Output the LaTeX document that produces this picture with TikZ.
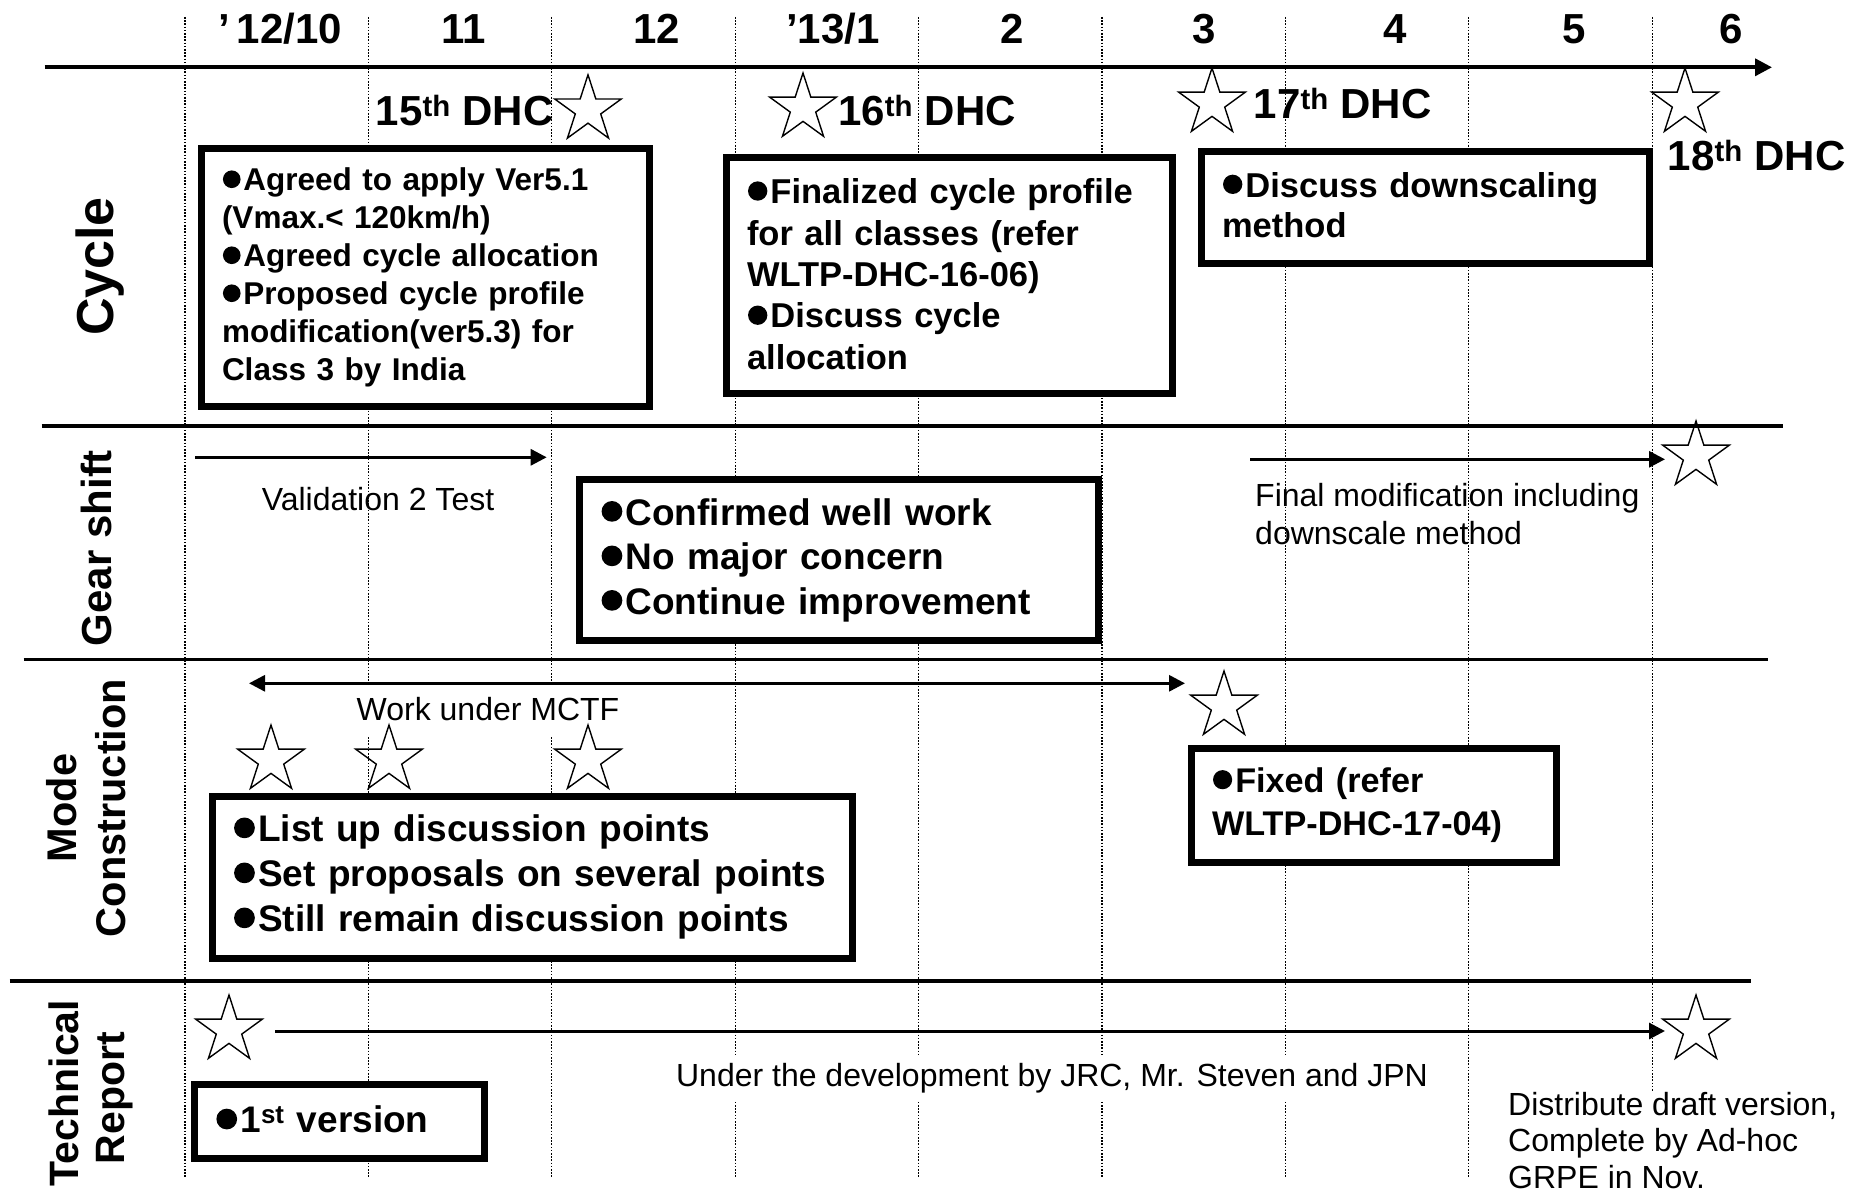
\documentclass[tikz,border=0pt]{standalone}
\usepackage{fontspec}
\setmainfont{Liberation Sans}
\usetikzlibrary{shapes.geometric,arrows.meta}
\newcommand\bul{\tikz[baseline=0pt,x=1em,y=1em]{\fill (0.31,0.37) circle (0.28); \path (0,0) (0.68,0);}}
\begin{document}
\begin{tikzpicture}[x=1pt,y=-1pt,
  gridline/.style={line width=1.3pt, dash pattern=on 1.6pt off 1.6pt},
  sepline/.style={line width=3.6pt},
  arr/.style={line width=3pt, -{Triangle[length=16pt,width=16pt]}},
  darr/.style={line width=3pt, {Triangle[length=16pt,width=16pt]}-{Triangle[length=16pt,width=16pt]}},
  box/.style={draw, line width=7pt, fill=white, align=left, inner xsep=21pt, inner ysep=0pt, outer sep=0pt, anchor=north west},
  mstar/.style={star, star points=5, star point ratio=2.618, minimum size=70pt, inner sep=0pt, outer sep=0pt, draw, line width=1.4pt},
  note/.style={font=\fontsize{32}{38}\selectfont, inner sep=0pt},
  mon/.style={font=\bfseries\fontsize{42}{50}\selectfont, anchor=base, inner sep=0pt},
  sect/.style={rotate=90, inner sep=0pt, font=\bfseries\fontsize{41}{48}\selectfont}
]
\useasboundingbox[fill=white] (0,0) rectangle (1858,1196);

% month grid
\foreach \x in {185,368.4,551.8,735.2,918.6,1102,1285.4,1468.8,1652.2}
  \draw[gridline] (\x,17) -- (\x,1177);

% timeline
\coordinate (t0) at (44.5,67.3);
\coordinate (t1) at (1772,67.3);
\draw[line width=3.6pt,-{Triangle[length=17pt,width=17pt]}] (t0) -- (t1);

% separators
\draw[sepline] (41.5,426) -- (1783,426);
\draw[sepline] (23.7,659.3) -- (1768,659.3);
\draw[sepline] (9.5,981) -- (1751,981);

% months
\node[mon] (m10) at (280,44) {’\kern7pt12/10};
\node[mon] (m11) at (464,44) {11};
\node[mon] (m12) at (656.5,44) {12};
\node[mon] (m1) at (833,44) {’13/1};
\node[mon] (m2) at (1012,44) {2};
\node[mon] (m3) at (1204.5,44) {3};
\node[mon] (m4) at (1394.7,44) {4};
\node[mon] (m5) at (1574,44) {5};
\node[mon] (m6) at (1730.7,44) {6};

% section labels
\node[sect, font=\bfseries\fontsize{52}{60}\selectfont] (cyc) at (100.5,266.5) {Cycle};
\node[sect, font=\bfseries\fontsize{42}{50}\selectfont] (gear) at (96.7,548) {Gear shift};
\node[sect, font=\bfseries\fontsize{41.5}{48}\selectfont] (mode) at (62,808) {Mode};
\node[sect, font=\bfseries\fontsize{41.5}{48}\selectfont] (cons) at (111,808) {Construction};
\node[sect] (tech) at (64,1093) {Technical};
\node[sect] (rep) at (115,1098) {Report};

% DHC labels and stars
\node[mon] (d15) at (464.7,125.6) {15\textsuperscript{th} DHC};
\node[mon] (d16) at (927,125.6) {16\textsuperscript{th} DHC};
\node[mon] (d17) at (1342.7,118.5) {17\textsuperscript{th} DHC};
\node[mon] (d18) at (1756.7,171) {18\textsuperscript{th} DHC};
\node[mstar] (s15) at (588,109.8) {};
\node[mstar] (s16) at (803,108) {};
\node[mstar] (s17) at (1212,103) {};
\node[mstar] (s18) at (1685,103) {};

% cycle boxes
\node[box, text width=406pt, minimum height=257.5pt, font=\bfseries\fontsize{31.5}{38}\selectfont] (b1) at (201,149)
 {\bul Agreed to apply Ver5.1\\(Vmax.< 120km/h)\\\bul Agreed cycle allocation\\\bul Proposed cycle profile\\modification(ver5.3) for\\Class 3 by India};
\node[box, text width=404.5pt, minimum height=235.5pt, font=\bfseries\fontsize{34.5}{41.4}\selectfont] (b2) at (726,158)
 {\bul Finalized cycle profile\\for all classes (refer\\WLTP-DHC-16-06)\\\bul Discuss cycle\\allocation\vspace{3pt}};
\node[box, text width=406pt, minimum height=111pt, font=\bfseries\fontsize{34.5}{40.5}\selectfont] (b3) at (1201,152)
 {\bul Discuss downscaling\\method\vspace{5pt}};

% gear shift
\coordinate (va) at (195,457.3);
\coordinate (vb) at (546.7,457.3);
\draw[arr] (va) -- (vb);
\node[note, anchor=base] (val) at (378,510) {Validation 2 Test};
\node[box, text width=477pt, minimum height=161pt, font=\bfseries\fontsize{37}{44.5}\selectfont] (gb) at (579.5,479.5)
 {\bul Confirmed well work\\\bul No major concern\\\bul Continue improvement};
\node[mstar] (sg) at (1696,456) {};
\coordinate (fa) at (1250,459.3);
\coordinate (fb) at (1665,459.3);
\draw[arr] (fa) -- (fb);
\node[note, anchor=north west, align=left] (fin) at (1255,482.7) {Final modification including\\downscale method};

% mode construction
\node[note, anchor=base, fill=white, inner xsep=2pt, inner ysep=14pt] (mctf) at (488,720.5) {Work under MCTF};
\coordinate (ma) at (249,683.3);
\coordinate (mb) at (1185,683.3);
\draw[darr] (ma) -- (mb);
\node[mstar] (sm1) at (271,760) {};
\node[mstar] (sm2) at (389,760) {};
\node[mstar] (sm3) at (588,760) {};
\node[mstar] (sm4) at (1224,706) {};
\node[box, text width=598pt, minimum height=162pt, font=\bfseries\fontsize{37}{45}\selectfont] (mb1) at (212,796)
 {\bul List up discussion points\\\bul Set proposals on several points\\\bul Still remain discussion points};
\node[box, text width=323pt, minimum height=114pt, font=\bfseries\fontsize{34.2}{43}\selectfont] (fb) at (1191,748)
 {\bul Fixed (refer\\WLTP-DHC-17-04)};

% technical report
\node[mstar] (st1) at (229,1030) {};
\node[mstar] (st2) at (1696,1030) {};
\coordinate (ta) at (275,1031);
\coordinate (tb) at (1665,1031);
\draw[arr] (ta) -- (tb);
\node[note, anchor=base, fill=white, inner sep=8pt] (dev) at (1052,1086.7) {Under the development by JRC, Mr. Steven and JPN};
\node[box, text width=248pt, minimum height=74pt, font=\bfseries\fontsize{37}{44}\selectfont] (vb1) at (194.3,1084)
 {\bul 1\textsuperscript{st} version\vspace{3pt}};
\node[note, anchor=north west, align=left, fill=white, font=\fontsize{32}{36.5}\selectfont] (dist) at (1508,1092)
 {Distribute draft version,\\Complete by Ad-hoc\\GRPE in Nov.};
\end{tikzpicture}
\end{document}
